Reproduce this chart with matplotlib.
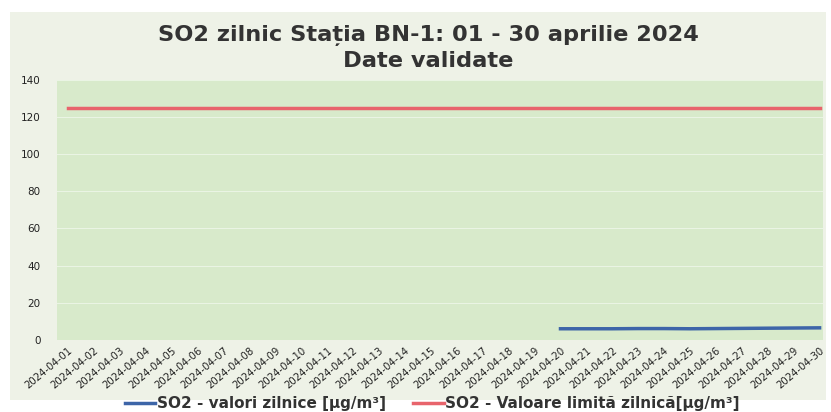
import matplotlib.pyplot as plt

dates = ["2024-04-%02d" % d for d in range(1, 31)]
so2_daily = [None] * 19 + [6.0, 6.0, 6.0, 6.1, 6.1, 6.0, 6.1, 6.2, 6.3, 6.4, 6.5]
so2_limit = [125] * 30

x = list(range(len(dates)))
blue_x = [i for i, v in zip(x, so2_daily) if v is not None]
blue_y = [v for v in so2_daily if v is not None]

figure = plt.figure(figsize=(8.31, 4.12), dpi=100)
figure.patch.set_facecolor("white")

# light panel behind the whole chart
panel = figure.add_axes([0.012, 0.03, 0.982, 0.94], zorder=0)
panel.set_facecolor("#eef2e7")
panel.set_xticks([])
panel.set_yticks([])
for spine in panel.spines.values():
    spine.set_visible(False)

axis = figure.add_axes([0.069, 0.175, 0.921, 0.631], zorder=1)
axis.set_facecolor("#d8eacb")
axis.plot(blue_x, blue_y, color="#3d65a8", linewidth=2.5, label="SO2 - valori zilnice [µg/m³]")
axis.plot(x, so2_limit, color="#e8646c", linewidth=2.5, label="SO2 - Valoare limită zilnică[µg/m³]")

axis.set_xlim(-0.42, 29.12)
axis.set_ylim(0, 140)
axis.set_yticks(range(0, 141, 20))
axis.set_xticks(x)
axis.set_xticklabels(dates, rotation=40, ha="right", rotation_mode="anchor", fontsize=7.3, color="#222222")
axis.tick_params(axis="y", labelsize=7.5, length=0, pad=12, labelcolor="#222222")
axis.tick_params(axis="x", length=0, pad=4)
axis.grid(axis="y", color="white", linewidth=0.7, alpha=0.5)
for spine in axis.spines.values():
    spine.set_visible(False)

figure.text(0.515, 0.913, "SO2 zilnic Sta\u021bia BN-1: 01 - 30 aprilie 2024", ha="center", va="center",
            fontsize=16.2, fontweight="bold", color="#333333")
figure.text(0.515, 0.851, "Date validate", ha="center", va="center",
            fontsize=16.2, fontweight="bold", color="#333333")

figure.legend(loc="center", bbox_to_anchor=(0.52, 0.02), ncol=2, frameon=False,
              prop={"size": 11, "weight": "bold"}, handlelength=2.0, handletextpad=0.1,
              columnspacing=1.8, labelcolor="#333333")

figure.savefig("out.png", dpi=100, facecolor=figure.get_facecolor())
